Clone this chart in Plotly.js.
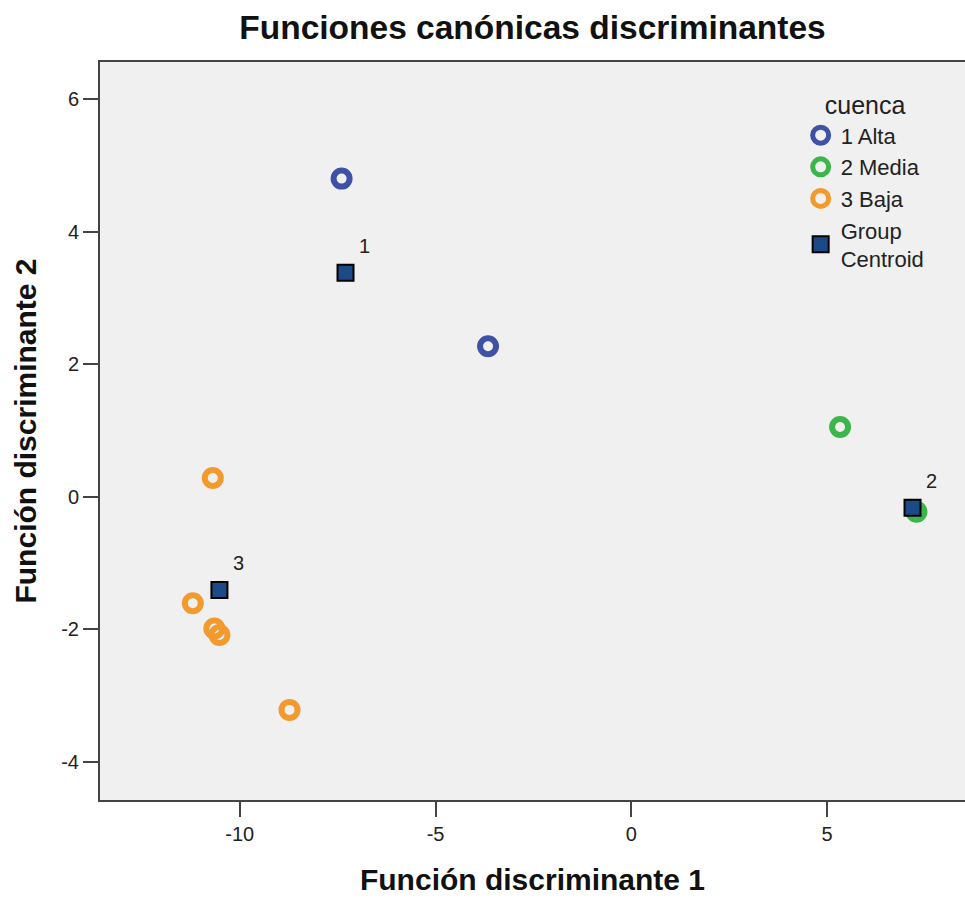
<!DOCTYPE html>
<html>
<head>
<meta charset="utf-8">
<script src="https://cdn.plot.ly/plotly-3.0.1.min.js"></script>
<style>
  html, body { margin: 0; padding: 0; background: #ffffff; }
  #chart { width: 965px; height: 900px; }
</style>
</head>
<body>
<div id="chart"></div>
<script>
// Canonical discriminant scores per group (cuenca)
const altaX = [-7.40, -3.66];
const altaY = [4.80, 2.27];
const mediaX = [5.33, 7.28];
const mediaY = [1.05, -0.23];
const bajaX = [-10.69, -11.20, -10.65, -10.52, -8.73];
const bajaY = [0.28, -1.61, -1.99, -2.09, -3.22];

// Group centroids and their labels
const centroidX = [-7.30, 7.18, -10.52];
const centroidY = [3.38, -0.17, -1.41];
const centroidLabels = ['1', '2', '3'];

const groupNames = ['1 Alta', '2 Media', '3 Baja'];
const xTicks = [-10, -5, 0, 5];
const yTicks = [-4, -2, 0, 2, 4, 6];

const FONT = 'Liberation Sans, Arial, sans-serif';

function ringTrace(x, y, name, color) {
  return {
    type: 'scatter', mode: 'markers', x: x, y: y, name: name,
    marker: { symbol: 'circle-open', size: 16, color: color, line: { width: 6, color: color } },
    hoverinfo: 'x+y+name'
  };
}

const traces = [
  ringTrace(altaX, altaY, groupNames[0], '#3f51a5'),
  ringTrace(mediaX, mediaY, groupNames[1], '#3cb54a'),
  ringTrace(bajaX, bajaY, groupNames[2], '#f29a2e'),
  {
    type: 'scatter', mode: 'markers', x: centroidX, y: centroidY,
    name: 'Group<br>Centroid',
    marker: { symbol: 'square', size: 16, color: '#1c4a86', line: { width: 2, color: '#000000' } }
  }
];

const annotations = centroidX.map((cx, i) => ({
  x: cx, y: centroidY[i], xref: 'x', yref: 'y',
  text: centroidLabels[i], showarrow: false,
  xshift: 19, yshift: 27,
  font: { family: FONT, size: 20, color: '#222222' }
}));

const layout = {
  width: 965, height: 900,
  margin: { l: 100, r: 0, t: 62, b: 100, pad: 0 },
  paper_bgcolor: '#ffffff',
  plot_bgcolor: '#f0f0f0',
  title: {
    text: '<b>Funciones canónicas discriminantes</b>',
    font: { family: FONT, size: 33.5, color: '#111111' },
    x: 0.5, xref: 'paper', xanchor: 'center',
    y: 0.97, yref: 'container', yanchor: 'middle'
  },
  xaxis: {
    range: [-13.57, 8.52],
    tickvals: xTicks, ticktext: xTicks.map(String),
    showgrid: false, zeroline: false,
    showline: true, linecolor: '#444444', linewidth: 2, mirror: true,
    ticks: 'outside', ticklen: 15, tickwidth: 2, tickcolor: '#444444',
    tickfont: { family: FONT, size: 20, color: '#222222' },
    title: { text: '<b>Función discriminante 1</b>', font: { family: FONT, size: 30, color: '#111111' }, standoff: 25 }
  },
  yaxis: {
    range: [-4.58, 6.56],
    tickvals: yTicks, ticktext: yTicks.map(String),
    showgrid: false, zeroline: false,
    showline: true, linecolor: '#444444', linewidth: 2,
    ticks: 'outside', ticklen: 15, tickwidth: 2, tickcolor: '#444444',
    tickfont: { family: FONT, size: 20, color: '#222222' },
    title: { text: '<b>Función discriminante 2</b>', font: { family: FONT, size: 30, color: '#111111' }, standoff: 16 }
  },
  showlegend: true,
  legend: {
    x: 0.81, y: 0.973, xanchor: 'left', yanchor: 'top',
    bgcolor: 'rgba(0,0,0,0)',
    font: { family: FONT, size: 22, color: '#222222' },
    title: { text: 'cuenca', side: 'top center', font: { family: FONT, size: 25, color: '#222222' } },
    itemsizing: 'trace',
    tracegroupgap: 0
  },
  annotations: annotations
};

Plotly.newPlot('chart', traces, layout, { displayModeBar: false, staticPlot: true });
</script>
</body>
</html>
